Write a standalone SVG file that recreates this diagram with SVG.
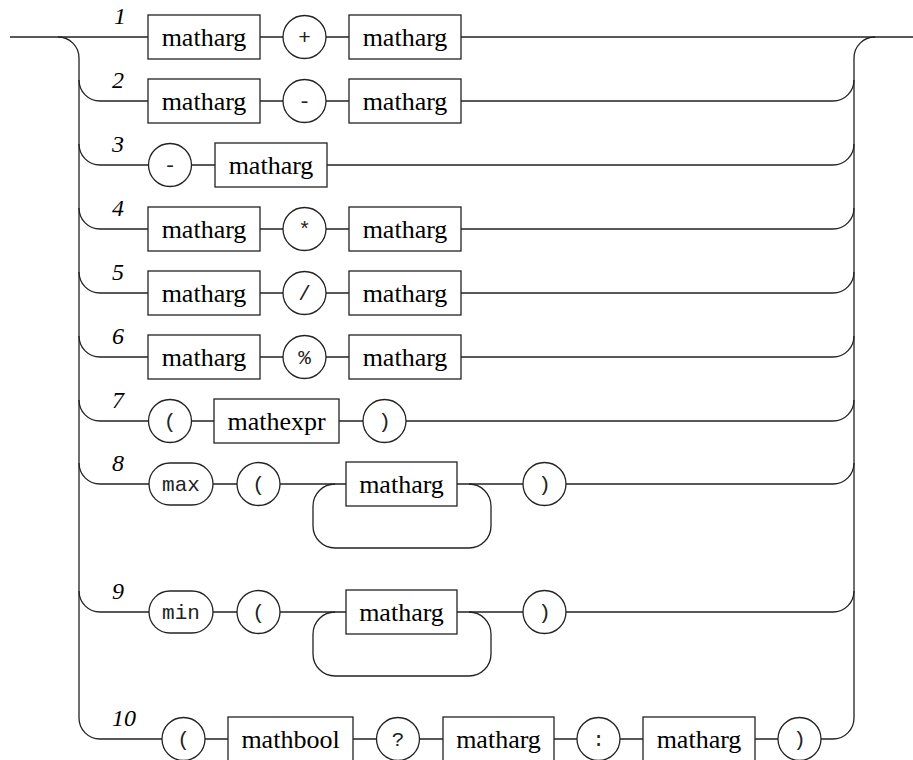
<svg xmlns="http://www.w3.org/2000/svg" width="913" height="760" viewBox="0 0 913 760">
<style>
.ln{fill:none;stroke:#222;stroke-width:1.3}
.bx{fill:#fff;stroke:#222;stroke-width:1.3}
.nt{font-family:"Liberation Serif","Times New Roman",serif;font-size:26px;fill:#000;text-anchor:middle}
.tm{font-family:"Liberation Mono","Courier New",monospace;font-size:21px;fill:#222;text-anchor:middle}
.lb{font-family:"Liberation Serif","Times New Roman",serif;font-size:24px;font-style:italic;fill:#000}
</style>
<rect width="913" height="760" fill="#fff"/>
<g id="connectors" class="ln">
<path d="M10 37H148M260 37H283M326 37H349M461 37H913"/>
<path d="M58 37A21 21 0 0 1 79 58V718A21 21 0 0 0 100 739"/>
<path d="M854 718V58A21 21 0 0 1 875 37"/>
<path d="M79 80A21 21 0 0 0 100 101H148M260 101H283M326 101H349M461 101H833A21 21 0 0 0 854 80"/>
<path d="M79 144A21 21 0 0 0 100 165H148.5M191.5 165H215M327 165H833A21 21 0 0 0 854 144"/>
<path d="M79 208A21 21 0 0 0 100 229H148M260 229H283M326 229H349M461 229H833A21 21 0 0 0 854 208"/>
<path d="M79 272A21 21 0 0 0 100 293H148M260 293H283M326 293H349M461 293H833A21 21 0 0 0 854 272"/>
<path d="M79 336A21 21 0 0 0 100 357H148M260 357H283M326 357H349M461 357H833A21 21 0 0 0 854 336"/>
<path d="M79 400A21 21 0 0 0 100 421H148.5M191.5 421H214M339 421H363M406 421H833A21 21 0 0 0 854 400"/>
<path d="M79 463A21 21 0 0 0 100 484H149M213 484H237M280 484H346M457 484H523M566 484H833A21 21 0 0 0 854 463"/>
<path d="M335 484A22 22 0 0 0 313 506V526A22 22 0 0 0 335 548H469A22 22 0 0 0 491 526V506A22 22 0 0 0 469 484"/>
<path d="M79 591A21 21 0 0 0 100 612H149M213 612H237M280 612H346M457 612H523M566 612H833A21 21 0 0 0 854 591"/>
<path d="M335 612A22 22 0 0 0 313 634V654A22 22 0 0 0 335 676H469A22 22 0 0 0 491 654V634A22 22 0 0 0 469 612"/>
<path d="M100 739H162M205 739H228M353 739H376.5M419.5 739H443M554 739H577M620 739H643M755 739H778M821 739H833A21 21 0 0 0 854 718"/>
</g>
<g id="labels">
<text class="lb" x="114" y="24">1</text>
<text class="lb" x="112" y="88">2</text>
<text class="lb" x="112" y="152">3</text>
<text class="lb" x="112" y="216">4</text>
<text class="lb" x="112" y="280">5</text>
<text class="lb" x="112" y="344">6</text>
<text class="lb" x="112" y="408">7</text>
<text class="lb" x="112" y="471">8</text>
<text class="lb" x="112" y="599">9</text>
<text class="lb" x="112" y="726">10</text>
</g>
<g id="r1a"><rect class="bx" x="148" y="15" width="112" height="44"/><text class="nt" x="204" y="46">matharg</text></g>
<g id="r1op"><circle class="bx" cx="304.5" cy="37" r="21.5"/><text class="tm" x="304.5" y="44">+</text></g>
<g id="r1b"><rect class="bx" x="349" y="15" width="112" height="44"/><text class="nt" x="405" y="46">matharg</text></g>
<g id="r2a"><rect class="bx" x="148" y="79" width="112" height="44"/><text class="nt" x="204" y="110">matharg</text></g>
<g id="r2op"><circle class="bx" cx="304.5" cy="101" r="21.5"/><text class="tm" x="304.5" y="108">-</text></g>
<g id="r2b"><rect class="bx" x="349" y="79" width="112" height="44"/><text class="nt" x="405" y="110">matharg</text></g>
<g id="r3op"><circle class="bx" cx="170" cy="165" r="21.5"/><text class="tm" x="170" y="172">-</text></g>
<g id="r3a"><rect class="bx" x="215" y="143" width="112" height="44"/><text class="nt" x="271" y="174">matharg</text></g>
<g id="r4a"><rect class="bx" x="148" y="207" width="112" height="44"/><text class="nt" x="204" y="238">matharg</text></g>
<g id="r4op"><circle class="bx" cx="304.5" cy="229" r="21.5"/><text class="tm" x="304.5" y="236">*</text></g>
<g id="r4b"><rect class="bx" x="349" y="207" width="112" height="44"/><text class="nt" x="405" y="238">matharg</text></g>
<g id="r5a"><rect class="bx" x="148" y="271" width="112" height="44"/><text class="nt" x="204" y="302">matharg</text></g>
<g id="r5op"><circle class="bx" cx="304.5" cy="293" r="21.5"/><text class="tm" x="304.5" y="300">/</text></g>
<g id="r5b"><rect class="bx" x="349" y="271" width="112" height="44"/><text class="nt" x="405" y="302">matharg</text></g>
<g id="r6a"><rect class="bx" x="148" y="335" width="112" height="44"/><text class="nt" x="204" y="366">matharg</text></g>
<g id="r6op"><circle class="bx" cx="304.5" cy="357" r="21.5"/><text class="tm" x="304.5" y="364">%</text></g>
<g id="r6b"><rect class="bx" x="349" y="335" width="112" height="44"/><text class="nt" x="405" y="366">matharg</text></g>
<g id="r7open"><circle class="bx" cx="170" cy="421" r="21.5"/><text class="tm" x="170" y="428">(</text></g>
<g id="r7expr"><rect class="bx" x="214" y="399" width="125" height="44"/><text class="nt" x="276.5" y="430">mathexpr</text></g>
<g id="r7close"><circle class="bx" cx="384.5" cy="421" r="21.5"/><text class="tm" x="384.5" y="428">)</text></g>
<g id="r8max"><rect class="bx" x="149" y="463" width="64" height="42" rx="21"/><text class="tm" x="181" y="491">max</text></g>
<g id="r8open"><circle class="bx" cx="258.5" cy="484" r="21.5"/><text class="tm" x="258.5" y="491">(</text></g>
<g id="r8arg"><rect class="bx" x="346" y="462" width="111" height="44"/><text class="nt" x="401.5" y="493">matharg</text></g>
<g id="r8close"><circle class="bx" cx="544.5" cy="484" r="21.5"/><text class="tm" x="544.5" y="491">)</text></g>
<g id="r9min"><rect class="bx" x="149" y="591" width="64" height="42" rx="21"/><text class="tm" x="181" y="619">min</text></g>
<g id="r9open"><circle class="bx" cx="258.5" cy="612" r="21.5"/><text class="tm" x="258.5" y="619">(</text></g>
<g id="r9arg"><rect class="bx" x="346" y="590" width="111" height="44"/><text class="nt" x="401.5" y="621">matharg</text></g>
<g id="r9close"><circle class="bx" cx="544.5" cy="612" r="21.5"/><text class="tm" x="544.5" y="619">)</text></g>
<g id="r10open"><circle class="bx" cx="183.5" cy="739" r="21.5"/><text class="tm" x="183.5" y="746">(</text></g>
<g id="r10bool"><rect class="bx" x="228" y="717" width="125" height="44"/><text class="nt" x="290.5" y="748">mathbool</text></g>
<g id="r10q"><circle class="bx" cx="398" cy="739" r="21.5"/><text class="tm" x="398" y="746">?</text></g>
<g id="r10a"><rect class="bx" x="443" y="717" width="111" height="44"/><text class="nt" x="498.5" y="748">matharg</text></g>
<g id="r10c"><circle class="bx" cx="598.5" cy="739" r="21.5"/><text class="tm" x="598.5" y="746">:</text></g>
<g id="r10b"><rect class="bx" x="643" y="717" width="112" height="44"/><text class="nt" x="699" y="748">matharg</text></g>
<g id="r10close"><circle class="bx" cx="799.5" cy="739" r="21.5"/><text class="tm" x="799.5" y="746">)</text></g>
</svg>
